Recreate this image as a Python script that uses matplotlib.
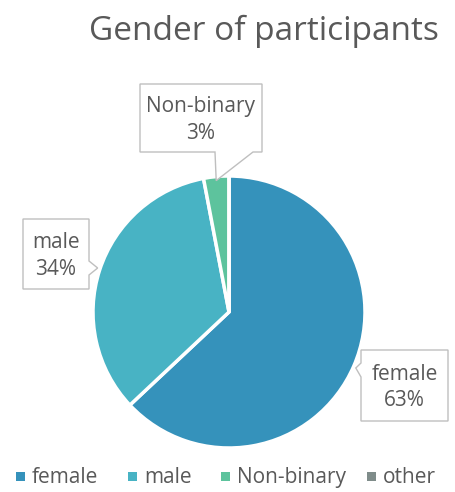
import numpy as np
import matplotlib
matplotlib.use('Agg')
import matplotlib.pyplot as plt
from matplotlib.patches import Polygon

categories = ['female', 'male', 'Non-binary', 'other']
shares = [63, 34, 3, 0]
colors = ['#3592bb', '#48b3c4', '#5dc39d', '#7f8c8a']

# label boxes: (left, top, right, bottom) in pixels, and the side holding the pointer
label_boxes = {
    'female': ((361, 350, 448, 421), 'left'),
    'male': ((23, 219, 89, 289), 'right'),
    'Non-binary': ((140, 84, 262, 152), 'bottom'),
}

W, H = 456, 492
cx, cy, R = 229, 312, 136
font = ['Open Sans', 'DejaVu Sans']
grey = '#595959'

fig = plt.figure(figsize=(W / 100, H / 100), dpi=100)
ax = fig.add_axes([0, 0, 1, 1])

wedges, _ = ax.pie(shares, colors=colors, startangle=90, counterclock=False,
                   center=(cx, H - cy), radius=R, frame=True,
                   wedgeprops=dict(edgecolor='white', linewidth=2.5))
ax.set_xlim(0, W)
ax.set_ylim(0, H)
ax.set_aspect('equal')
ax.axis('off')

fig.text(264 / W, 1 - 31 / H, 'Gender of participants', ha='center', va='center',
         fontsize=24, color=grey, family=font)

total = sum(shares)
start = 90.0
for name, val, w in zip(categories, shares, wedges):
    sweep = 360.0 * val / total
    mid = np.deg2rad(start - sweep / 2)
    start -= sweep
    if name not in label_boxes:
        continue
    (l, t, r, b), side = label_boxes[name]
    # pointer tip on the slice edge
    tx = cx + R * np.cos(mid)
    ty = cy - R * np.sin(mid)
    if side == 'bottom':
        pts = [(l, t), (r, t), (r, b), (253, b), (tx, ty + 4), (215, b), (l, b)]
    elif side == 'right':
        ym = 268
        pts = [(l, t), (r, t), (r, ym - 7), (tx - 2, ym), (r, ym + 7), (r, b), (l, b)]
    else:
        ym = 370
        pts = [(l, t), (r, t), (r, b), (l, b), (l, ym + 7), (tx + 2, ym - 2), (l, ym - 7)]
    pts = [(x, H - y) for x, y in pts]
    ax.add_patch(Polygon(pts, closed=True, facecolor='white', edgecolor='#bfbfbf',
                         linewidth=1, zorder=5))
    ax.text((l + r) / 2, H - (t + b) / 2 - 2, f'{name}\n{val}%', ha='center', va='center',
            fontsize=15, color=grey, family=font, linespacing=1.32, zorder=6)

# legend row
leg_x = [21, 133, 226, 372]
for x, name, c in zip(leg_x, categories, colors):
    ax.add_patch(plt.Rectangle((x - 4.5, H - 481.5), 9, 9, facecolor=c, edgecolor='none'))
    ax.text(x + 11, H - 478, name, ha='left', va='center', fontsize=15,
            color=grey, family=font)

fig.savefig('out.png', dpi=100)
